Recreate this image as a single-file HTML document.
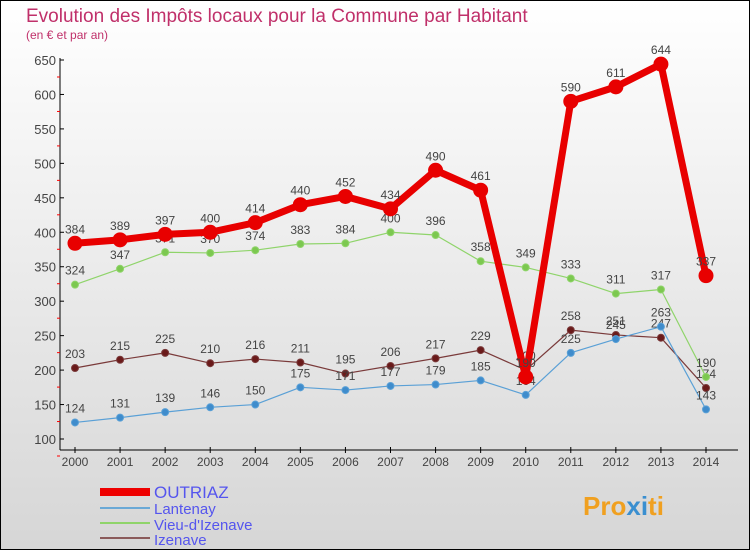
<!DOCTYPE html>
<html><head><meta charset="utf-8"><style>
body{margin:0}
#c{width:750px;height:550px;position:relative;overflow:hidden}
svg text{font-family:"Liberation Sans",sans-serif}
</style></head><body>
<div id="c">
<svg id="s" width="750" height="550" xmlns="http://www.w3.org/2000/svg">
<defs><linearGradient id="bg" x1="0" y1="0" x2="0" y2="1"><stop offset="0" stop-color="#ffffff"/><stop offset="1" stop-color="#d6d6d6"/></linearGradient></defs>
<rect x="0.5" y="0.5" width="749" height="549" fill="url(#bg)" stroke="#000"/>
<text x="26" y="22" font-size="19" fill="#c0306a">Evolution des Impôts locaux pour la Commune par Habitant</text>
<text x="26" y="39" font-size="12" fill="#c0306a">(en € et par an)</text>
<g id="axes"></g><g id="series"></g>
<g>
<rect x="100" y="488" width="50" height="8" fill="#e00"/>
<text x="154" y="498" font-size="17" fill="#5555ee">OUTRIAZ</text>
<rect x="100" y="507" width="50" height="2" fill="#6aa9d6"/>
<text x="154" y="514" font-size="15" fill="#5555ee">Lantenay</text>
<rect x="100" y="522" width="50" height="2" fill="#8fd46a"/>
<text x="154" y="530" font-size="15" fill="#5555ee">Vieu-d'Izenave</text>
<rect x="100" y="537" width="50" height="2" fill="#8a5a5a"/>
<text x="154" y="545" font-size="15" fill="#5555ee">Izenave</text>
</g>
<text x="583" y="515" font-size="26" font-weight="bold" fill="#f0a020">Pro<tspan fill="#3a8fd0">x</tspan><tspan fill="#3a8fd0">i</tspan>ti</text>
</svg></div>
<script>
const years=[2000,2001,2002,2003,2004,2005,2006,2007,2008,2009,2010,2011,2012,2013,2014];
const outriaz=[384,389,397,400,414,440,452,434,490,461,190,590,611,644,337];
const lantenay=[124,131,139,146,150,175,171,177,179,185,164,225,245,263,143];
const vieu=[324,347,371,370,374,383,384,400,396,358,349,333,311,317,190];
const izenave=[203,215,225,210,216,211,195,206,217,229,200,258,251,247,174];
const yTicks=[100,150,200,250,300,350,400,450,500,550,600,650];
const NS="http://www.w3.org/2000/svg";
function xs(i){return 75+i*(706-75)/(years.length-1);}
function ys(v){return 439-(v-100)*(439-60)/550;}
function mk(t,a,p){const e=document.createElementNS(NS,t);for(const k in a)e.setAttribute(k,a[k]);p.appendChild(e);return e;}
const ax=document.getElementById('axes');
let l=mk('line',{x1:60,y1:58,x2:60,y2:450,stroke:'#000'},ax);


l=mk('line',{x1:60,y1:450,x2:738,y2:450,stroke:'#000'},ax);


yTicks.forEach(v=>{const y=ys(v);
 mk('line',{x1:60,y1:y,x2:64,y2:y,stroke:'#000'},ax);
 mk('line',{x1:57,y1:y+17,x2:60,y2:y+17,stroke:'#f00'},ax);
 const t=mk('text',{x:56,y:y+5,'font-size':13,fill:'#444','text-anchor':'end'},ax);t.textContent=v;
 
 });
years.forEach((yr,i)=>{const x=xs(i);
 mk('line',{x1:x,y1:447,x2:x,y2:453,stroke:'#000'},ax);
 const t=mk('text',{x:x,y:466,'font-size':12,fill:'#444','text-anchor':'middle'},ax);t.textContent=yr;
 
 });
const sg=document.getElementById('series');
function draw(name,vals,color,dot,w,r){
 const g=mk('g',{},sg);
 
 
 mk('polyline',{points:vals.map((v,i)=>xs(i)+','+ys(v)).join(' '),fill:'none',stroke:color,'stroke-width':w,'stroke-linejoin':'round'},g);
 vals.forEach((v,i)=>{const c=mk('circle',{cx:xs(i),cy:ys(v),r:r,fill:dot,stroke:color,'stroke-width':1},g);
  
  
  const t=mk('text',{x:xs(i),y:ys(v)-10,'font-size':12,fill:'#444','text-anchor':'middle'},g);t.textContent=v;
  
  });
}
draw('izenave',izenave,'#7a3a3a','#6a1a1a',1.2,3.5);
draw('vieu',vieu,'#8fd46a','#7cc850',1.2,3.5);
draw('lantenay',lantenay,'#5aa0d6','#3f8ccc',1.2,3.5);
draw('outriaz',outriaz,'#e80000','#e80000',7,7);
</script>
</body></html>
